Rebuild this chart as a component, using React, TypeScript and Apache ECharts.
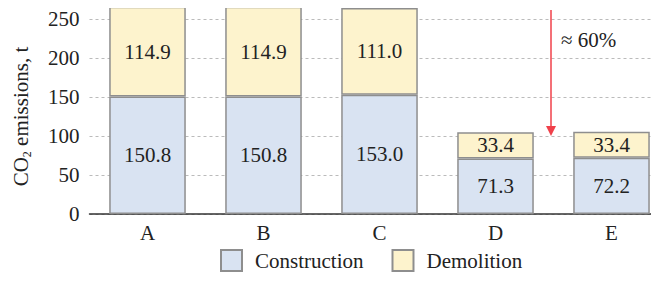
import React, { useEffect, useRef } from "react";
import * as echarts from "echarts";

const categories = ["A", "B", "C", "D", "E"];
const construction = [150.8, 150.8, 153.0, 71.3, 72.2];
const demolition = [114.9, 114.9, 111.0, 33.4, 33.4];
const yTicks = { min: 0, max: 250, interval: 50 };
const annotationText = "≈ 60%";

export default function App() {
  const ref = useRef<HTMLDivElement>(null);
  useEffect(() => {
    if (!ref.current) return;
    const chart = echarts.init(ref.current, undefined, { renderer: "svg" });
    const font = "Liberation Serif";
    const fs = 21;
    const barStyle = (color: string) => ({
      color,
      borderColor: "#8e8e8e",
      borderWidth: 1.5,
    });
    const label = {
      show: true,
      position: "inside" as const,
      fontFamily: font,
      fontSize: fs,
      color: "#222",
      formatter: (p: any) => Number(p.value).toFixed(1),
    };
    chart.setOption({
      animation: false,
      textStyle: { fontFamily: font },
      grid: { left: 89.5, right: -10.5, top: 19, bottom: 67, outerBoundsMode: "none", containLabel: false },
      legend: {
        bottom: 4,
        left: 215,
        itemWidth: 21,
        itemHeight: 21,
        itemGap: 28,
        icon: "rect",
        textStyle: { fontFamily: font, fontSize: fs, color: "#222", padding: [0, 0, 0, 8] },
        data: ["Construction", "Demolition"],
      },
      xAxis: {
        type: "category",
        data: categories,
        axisLine: { lineStyle: { color: "#333", width: 1.5 } },
        axisTick: { show: false },
        axisLabel: { fontFamily: font, fontSize: fs, color: "#222", margin: 8 },
      },
      yAxis: {
        type: "value",
        min: yTicks.min,
        max: yTicks.max,
        interval: yTicks.interval,
        name: "CO{sub|2} emissions, t",
        nameLocation: "middle",
        nameGap: 57,
        nameRotate: 90,
        nameTextStyle: {
          fontFamily: font,
          fontSize: fs,
          color: "#222",
          lineHeight: 24,
          rich: {
            sub: { fontFamily: font, fontSize: 12, verticalAlign: "bottom", lineHeight: 20, color: "#222" },
          },
        },
        axisLine: { show: false },
        axisTick: { show: false },
        axisLabel: { fontFamily: font, fontSize: fs, color: "#222", margin: 10 },
        splitLine: { lineStyle: { color: "#bbb", type: [3, 3], width: 1 } },
      },
      series: [
        {
          name: "Construction",
          type: "bar",
          stack: "total",
          data: construction,
          barCategoryGap: "34%",
          clip: false,
          itemStyle: barStyle("#d9e3f2"),
          label,
          markLine: {
            silent: true,
            symbol: ["none", "triangle"],
            symbolSize: [10, 10],
            label: { show: false },
            lineStyle: { color: "#f0404a", width: 1.5, type: "solid" },
            data: [[{ x: 551, y: 10 }, { x: 551, y: 131 }]],
          },
        },
        {
          name: "Demolition",
          type: "bar",
          stack: "total",
          data: demolition,
          barCategoryGap: "34%",
          clip: false,
          itemStyle: barStyle("#fdf3cd"),
          label,
        },
      ],
      graphic: [
        {
          type: "text",
          left: 561,
          top: 29,
          style: { text: annotationText, fontFamily: font, fontSize: fs, fill: "#222" },
        },
      ],
    });
    return () => chart.dispose();
  }, []);
  return <div ref={ref} style={{ width: 659, height: 281, margin: -8 }} />;
}
